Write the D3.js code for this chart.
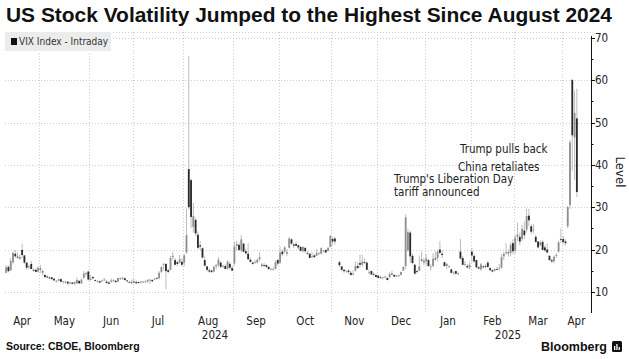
<!DOCTYPE html>
<html><head><meta charset="utf-8">
<script src="https://cdn.jsdelivr.net/npm/d3@7"></script>
<style>
html,body{margin:0;padding:0;background:#fff;}
svg{display:block;}
.t{font-family:"DejaVu Sans Condensed","Liberation Sans Narrow","DejaVu Sans",sans-serif;font-stretch:condensed;}
</style></head>
<body><svg id="c" width="629" height="359"></svg>
<script>
// ---- DATA: [day, open, high, low, close] ----
const apr24 = [[10,14.5,16.3,14.4,15.8],[11,15.9,16.2,14.6,14.9],[12,15.1,18.0,14.9,17.3],[15,17.0,19.6,16.5,19.2],[16,19.0,19.9,18.0,18.4],[17,18.3,19.3,17.8,18.2],[18,18.1,18.9,17.5,18.0],[19,19.9,21.4,17.9,18.7],[22,18.6,18.7,16.6,16.9],[23,16.9,17.0,15.2,15.7],[24,15.8,16.4,15.3,16.0],[25,16.6,17.3,15.4,15.4],[26,15.2,15.5,14.8,15.0],[29,15.2,15.6,14.6,14.7],[30,14.8,16.0,14.6,15.7]];
const may24 = [[1,15.5,16.4,14.5,15.4],[2,14.8,15.3,13.9,14.7],[3,14.0,14.1,13.2,13.5],[6,13.6,13.9,13.2,13.5],[7,13.4,13.6,13.0,13.2],[8,13.4,13.5,12.9,13.0],[9,13.1,13.2,12.6,12.7],[10,12.6,12.8,12.2,12.6],[13,12.6,13.1,12.5,13.0],[14,13.0,13.2,12.3,12.4],[15,12.4,12.6,11.9,12.5],[16,12.4,12.6,11.9,12.4],[17,12.4,12.5,11.5,12.0],[20,12.1,12.3,11.7,12.2],[21,12.2,12.3,11.8,11.9],[22,11.9,12.5,11.6,12.3],[23,12.0,13.4,11.9,12.8],[24,12.6,12.7,11.9,12.0],[28,12.0,13.1,11.9,12.9],[29,13.3,14.9,13.1,14.3],[30,14.2,14.5,13.6,14.5],[31,14.8,15.0,12.6,12.9]];
const jun24 = [[3,12.8,14.0,12.6,13.1],[4,13.5,13.7,13.0,13.2],[5,12.8,12.9,12.5,12.6],[6,12.6,12.7,12.2,12.6],[7,12.5,12.7,12.0,12.2],[10,12.6,12.9,12.2,12.7],[11,12.8,13.3,12.6,12.9],[12,12.4,12.9,11.9,12.1],[13,12.2,12.5,11.9,11.9],[14,12.4,13.2,12.1,12.7],[17,12.7,13.0,12.2,12.8],[18,12.6,12.8,12.2,12.3],[20,12.4,13.3,12.3,13.3],[21,13.0,13.4,12.8,13.2],[24,13.3,13.6,12.8,13.3],[25,13.2,13.4,12.6,12.8],[26,12.7,12.8,12.2,12.6],[27,12.3,12.6,12.1,12.2],[28,12.0,12.9,11.9,12.4]];
const jul24 = [[1,12.4,13.1,12.2,12.2],[2,12.3,12.7,12.0,12.0],[3,12.3,12.4,11.9,12.1],[5,12.3,12.5,11.9,12.5],[8,12.4,12.6,12.1,12.4],[9,12.4,12.7,12.1,12.5],[10,12.5,12.6,12.0,12.9],[11,12.7,13.0,11.9,12.9],[12,12.8,13.0,12.3,12.5],[15,12.9,13.3,12.8,13.1],[16,13.3,13.4,12.9,13.2],[17,13.2,14.9,13.1,14.5],[18,14.7,16.0,14.4,15.9],[19,16.4,16.9,15.1,16.5],[22,16.6,16.8,10.6,14.9],[23,15.1,15.5,14.4,14.7],[24,15.2,18.5,15.1,18.0],[25,18.2,19.4,17.6,18.5],[26,17.5,18.0,16.3,16.4],[29,17.0,17.3,16.1,16.6],[30,16.9,18.7,16.7,17.7],[31,17.1,18.0,16.0,16.4]];
const aug24 = [[1,16.9,19.0,16.0,18.6],[2,19.3,29.7,19.0,23.4],[5,39.0,65.7,29.5,30.0],[6,36.4,36.8,25.0,27.7],[7,25.3,31.0,24.0,27.9],[8,27.0,27.5,23.2,23.8],[9,23.5,24.3,20.1,20.4],[12,21.0,22.0,19.9,20.7],[13,20.3,20.5,17.9,18.1],[14,17.5,18.4,16.0,16.2],[15,16.0,16.2,14.8,15.2],[16,15.1,15.6,14.5,14.8],[19,15.0,15.3,14.4,14.7],[20,14.8,16.2,14.6,15.9],[21,16.0,16.6,15.3,16.3],[22,16.3,18.2,15.8,17.6],[23,16.9,17.2,15.6,15.9],[26,16.0,16.4,15.6,16.2],[27,16.1,16.5,15.3,15.4],[28,15.5,17.5,15.2,17.1],[29,16.6,17.1,15.3,15.7],[30,15.6,16.2,14.9,15.0]];
const sep24 = [[3,16.7,21.9,16.2,20.7],[4,20.9,22.0,19.7,21.3],[5,21.1,21.6,19.6,19.9],[6,19.8,23.4,19.3,22.4],[9,21.4,21.5,19.3,19.5],[10,19.6,20.2,18.8,19.1],[11,19.0,21.5,17.5,17.7],[12,17.6,18.1,16.9,17.1],[13,16.9,17.2,16.4,16.6],[16,17.0,17.6,16.6,17.1],[17,16.9,17.8,16.7,17.6],[18,17.7,19.4,17.2,18.2],[19,16.4,16.9,15.8,16.3],[20,16.3,16.8,15.9,16.2],[23,16.3,16.6,15.6,15.9],[24,15.9,16.0,15.1,15.4],[25,15.4,15.7,15.1,15.4],[26,15.3,15.9,15.0,15.4],[27,15.4,17.5,15.3,17.0],[30,17.5,17.8,16.2,16.7]];
const oct24 = [[1,16.9,20.7,16.7,19.3],[2,19.5,20.0,18.4,18.9],[3,19.5,20.8,19.2,20.5],[4,19.3,20.1,18.5,19.2],[7,20.4,23.0,20.2,22.6],[8,22.4,22.6,21.2,21.4],[9,21.2,21.5,20.3,20.9],[10,21.3,21.9,20.7,20.9],[11,21.0,21.2,19.9,20.5],[14,20.6,20.7,19.5,19.7],[15,19.6,20.8,19.3,20.6],[16,20.4,20.5,19.2,19.6],[17,19.2,19.7,18.8,19.1],[18,19.0,19.2,18.0,18.0],[21,18.3,19.4,18.0,18.4],[22,18.6,18.9,18.0,18.2],[23,18.5,20.1,18.4,19.2],[24,19.0,19.5,18.8,19.1],[25,19.0,20.5,18.9,20.3],[28,19.6,19.9,19.3,19.8],[29,19.9,20.0,19.2,19.3],[30,19.7,20.6,19.5,20.4],[31,20.6,23.5,20.5,23.2]];
const nov24 = [[1,22.5,23.0,20.9,21.9],[4,22.6,23.0,21.2,21.9],[5,null,null,null,null],[6,17.0,17.3,15.9,16.3],[7,16.0,16.1,15.0,15.2],[8,15.2,15.4,14.5,14.9],[11,14.8,15.0,14.5,15.0],[12,15.0,15.4,14.2,14.7],[13,14.5,14.9,13.7,14.0],[14,14.1,15.1,13.9,14.3],[15,15.0,17.2,14.8,16.1],[18,16.1,17.0,15.5,15.6],[19,16.8,18.8,15.7,16.4],[20,16.4,18.8,16.0,17.2],[21,17.0,17.9,16.6,16.9],[22,16.9,17.2,15.2,15.2],[25,14.6,15.3,14.1,14.6],[26,14.9,15.0,14.1,14.1],[27,14.2,14.6,13.6,14.1],[29,14.0,14.0,13.4,13.5]];
const dec24 = [[2,13.8,14.0,13.2,13.3],[3,13.4,13.8,13.2,13.3],[4,13.4,13.5,12.9,13.5],[5,13.5,13.8,13.2,13.6],[6,13.3,13.4,12.7,12.8],[9,13.5,14.6,13.2,14.2],[10,14.3,15.0,14.0,14.2],[11,14.0,14.1,13.5,13.6],[12,13.6,14.0,13.5,13.9],[13,13.8,14.1,13.6,13.9],[16,14.0,14.8,13.9,14.7],[17,15.0,16.0,14.9,15.9],[18,16.1,28.3,15.4,27.6],[19,19.8,24.9,19.5,24.1],[20,24.0,24.5,16.8,18.4],[23,18.5,19.0,16.5,16.8],[24,16.4,16.6,14.0,14.3],[26,14.9,15.2,14.3,14.7],[27,15.0,18.5,14.9,16.0],[30,17.6,19.5,17.1,17.4],[31,16.9,18.0,16.3,17.4]];
const jan25 = [[2,17.2,18.9,16.2,17.9],[3,17.5,17.8,15.9,16.1],[6,15.8,16.6,15.0,16.0],[7,16.1,19.1,15.8,17.8],[8,17.9,19.6,17.3,17.7],[10,18.0,20.0,17.2,19.5],[13,20.0,22.0,19.0,19.2],[14,19.0,19.8,18.0,18.7],[15,17.0,17.2,15.9,16.1],[16,16.1,16.8,15.4,16.6],[17,16.0,16.3,15.6,16.0],[21,15.3,15.5,14.3,14.5],[22,14.5,14.8,14.0,14.6],[23,14.9,15.0,14.0,14.3],[24,14.2,14.6,13.9,14.4],[27,19.5,22.5,17.6,17.9],[28,18.0,18.5,16.2,16.4],[29,16.4,17.3,16.0,16.6],[30,16.1,16.6,15.4,15.8],[31,15.7,17.1,15.3,16.4]];
const feb25 = [[3,19.5,20.4,17.0,18.6],[4,18.5,18.8,16.8,17.2],[5,17.5,17.6,15.6,15.8],[6,15.8,16.1,15.3,15.5],[7,15.3,16.9,15.0,16.5],[10,16.0,16.3,15.5,15.8],[11,16.1,16.6,15.6,16.0],[12,16.9,17.4,15.7,15.9],[13,15.6,15.8,15.0,15.1],[14,15.1,15.3,14.6,14.8],[18,15.0,15.5,14.8,15.4],[19,15.4,16.0,15.1,15.3],[20,15.5,16.6,15.0,15.7],[21,15.7,18.9,15.5,18.2],[24,18.4,19.4,17.5,19.0],[25,19.2,21.5,18.7,19.4],[26,19.3,20.0,18.3,19.1],[27,19.2,21.7,18.4,21.1],[28,21.5,22.4,18.9,19.6]];
const mar25 = [[3,19.7,23.5,19.0,22.8],[4,23.0,26.4,22.0,23.5],[5,23.0,24.0,21.0,21.9],[6,22.5,25.8,22.0,24.9],[7,24.5,26.6,22.5,23.4],[10,24.7,29.6,24.0,27.9],[11,28.0,29.6,25.5,26.9],[12,25.5,26.0,23.6,24.2],[13,24.5,26.0,23.8,24.7],[14,23.0,23.5,21.6,21.8],[17,21.9,22.0,20.2,20.5],[18,21.0,22.2,20.8,21.7],[19,21.8,22.3,19.7,19.9],[20,20.5,21.1,19.5,19.8],[21,20.0,21.5,19.2,19.3],[24,18.5,18.7,17.4,17.5],[25,17.5,17.8,16.8,17.2],[26,17.2,18.6,16.8,18.3],[27,18.5,19.2,18.0,18.7],[28,19.5,22.0,19.3,21.7],[31,22.5,25.0,21.5,22.3]];
const apr25 = [[1,22.5,23.2,21.2,21.8],[2,21.9,22.4,20.9,21.5],[3,25.5,30.3,25.0,30.0],[4,30.5,45.9,29.6,45.3],[7,60.1,60.1,38.6,47.0],[8,46.5,57.5,36.5,52.3],[9,51.0,58.0,32.4,33.6]];

const monthKeys   = ["2024-04","2024-05","2024-06","2024-07","2024-08","2024-09","2024-10","2024-11","2024-12","2025-01","2025-02","2025-03","2025-04"];
const monthRows   = [apr24,may24,jun24,jul24,aug24,sep24,oct24,nov24,dec24,jan25,feb25,mar25,apr25];
const monthLabels = ["Apr","May","Jun","Jul","Aug","Sep","Oct","Nov","Dec","Jan","Feb","Mar","Apr"];
const yearLabels  = ["2024","2025"];
const yTicks      = [10,20,30,40,50,60,70];
const yMinor      = [15,25,35,45,55,65];
const annotations = ["Trump pulls back","China retaliates","Trump's Liberation Day","tariff announced"];

// ---- BUILD ----
const data = [];
monthKeys.forEach((k,mi)=>{
  monthRows[mi].forEach(r=>{
    data.push({date:k+"-"+String(r[0]).padStart(2,"0"),month:mi,o:r[1],h:r[2],l:r[3],c:r[4]});
  });
});

const svg = d3.select("#c");
const pLeft = 5, axisX = 591, pTop = 32, pBottom = 313;
const x = d3.scaleBand().domain(data.map(d=>d.date)).range([pLeft, 578]).padding(0);
const y = d3.scaleLinear().domain([5, 71.4]).range([pBottom, pTop]);
const step = x.bandwidth();

// grid
const grid = svg.append("g").attr("stroke","#cccccc").attr("stroke-width",1).attr("stroke-dasharray","1,2");
grid.selectAll("line.h").data(yTicks.concat([71.4])).join("line")
  .attr("x1",pLeft).attr("x2",axisX).attr("y1",d=>Math.round(y(d))+0.5).attr("y2",d=>Math.round(y(d))+0.5);
const monthStarts = monthKeys.map((k,mi)=>x(data.find(d=>d.month===mi).date));
grid.selectAll("line.v").data(monthStarts.slice(1)).join("line")
  .attr("x1",d=>Math.round(d)+0.5).attr("x2",d=>Math.round(d)+0.5).attr("y1",pTop).attr("y2",pBottom);

// candles
const valid = data.filter(d=>d.o!=null);
const cg = svg.append("g");
cg.selectAll("line.w").data(valid).join("line")
  .attr("x1",d=>x(d.date)+step/2).attr("x2",d=>x(d.date)+step/2)
  .attr("y1",d=>y(d.h)).attr("y2",d=>y(d.l))
  .attr("stroke","#bdbdbd").attr("stroke-width",1);
cg.selectAll("rect").data(valid).join("rect")
  .attr("x",d=>x(d.date)+step*0.1).attr("width",step*0.8)
  .attr("y",d=>y(Math.max(d.o,d.c))).attr("height",d=>Math.max(0.8,Math.abs(y(d.o)-y(d.c))))
  .attr("fill",d=>d.c>=d.o?"#8f8f8f":"#2b2b2b");

// right axis
const ax = svg.append("g").attr("transform",`translate(${axisX},0)`);
ax.append("line").attr("x1",0.5).attr("x2",0.5).attr("y1",y(70)-2).attr("y2",pBottom).attr("stroke","#111");
ax.selectAll("line.mj").data(yTicks).join("line").attr("x1",0).attr("x2",4)
  .attr("y1",d=>Math.round(y(d))+0.5).attr("y2",d=>Math.round(y(d))+0.5).attr("stroke","#111");
ax.selectAll("line.mn").data(yMinor).join("line").attr("x1",0).attr("x2",2.5)
  .attr("y1",d=>Math.round(y(d))+0.5).attr("y2",d=>Math.round(y(d))+0.5).attr("stroke","#111");
ax.selectAll("text").data(yTicks).join("text").attr("class","t")
  .attr("x",4).attr("y",d=>y(d)+4).attr("font-size",11.5).attr("fill","#222").text(d=>d);
svg.append("text").attr("class","t").attr("transform","translate(616,172) rotate(90)")
  .attr("text-anchor","middle").attr("font-size",13).attr("fill","#222").text("Level");

// month labels
const monthEnds = monthStarts.slice(1).concat([axisX]);
svg.append("g").selectAll("text").data(monthLabels).join("text").attr("class","t")
  .attr("x",(d,i)=>(monthStarts[i]+monthEnds[i])/2).attr("y",325).attr("text-anchor","middle")
  .attr("font-size",11.5).attr("fill","#222").text(d=>d);
const janStart = monthStarts[9];
const yearCenters = [(pLeft+janStart)/2,(janStart+axisX)/2];
svg.append("g").selectAll("text").data(yearLabels).join("text").attr("class","t")
  .attr("x",(d,i)=>yearCenters[i]).attr("y",339).attr("text-anchor","middle")
  .attr("font-size",11.5).attr("fill","#222").text(d=>d);

// legend
svg.append("rect").attr("x",5).attr("y",32).attr("width",106).attr("height",19).attr("fill","#ececec");
svg.append("rect").attr("x",11).attr("y",38).attr("width",6).attr("height",7).attr("fill","#111");
svg.append("text").attr("class","t").attr("x",19).attr("y",45).attr("font-size",10).attr("fill","#333").text("VIX Index - Intraday");

// annotations
const annPos = [[460,153],[458,171],[394,183],[394,196]];
svg.append("g").selectAll("text").data(annotations).join("text").attr("class","t")
  .attr("x",(d,i)=>annPos[i][0]).attr("y",(d,i)=>annPos[i][1]).attr("font-size",11.5).attr("fill","#222").text(d=>d);

// title & footer
svg.append("text").attr("x",6).attr("y",22).attr("font-family","Liberation Sans, Arial, sans-serif")
  .attr("font-weight","bold").attr("font-size",19.5).attr("fill","#111")
  .attr("textLength",606).attr("lengthAdjust","spacingAndGlyphs")
  .text("US Stock Volatility Jumped to the Highest Since August 2024");
svg.append("text").attr("x",6).attr("y",350).attr("font-family","Liberation Sans, Arial, sans-serif")
  .attr("font-weight","bold").attr("font-size",10.5).attr("fill","#111").text("Source: CBOE, Bloomberg");
svg.append("text").attr("x",607).attr("y",351).attr("text-anchor","end").attr("font-family","Liberation Sans, Arial, sans-serif")
  .attr("font-weight","bold").attr("font-size",12.5).attr("fill","#111").text("Bloomberg");
const logo = svg.append("g").attr("transform","translate(612,341)");
logo.append("rect").attr("width",10).attr("height",11).attr("rx",1.5).attr("fill","#111");
[[2,5,1.3,4],[4.3,3,1.3,6],[6.6,6,1.3,3]].forEach(b=>logo.append("rect").attr("x",b[0]).attr("y",b[1]).attr("width",b[2]).attr("height",b[3]).attr("fill","#fff"));
</script></body></html>
